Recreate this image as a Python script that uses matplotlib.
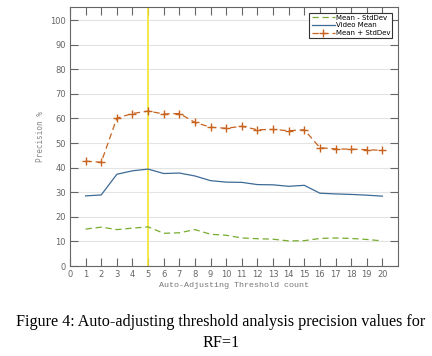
import matplotlib.pyplot as plt

# Data
counts = list(range(1, 21))
mean_minus_std = [15, 15.8, 14.8, 15.4, 15.9, 13.3, 13.5, 14.8, 12.9, 12.5,
                  11.4, 11.1, 10.9, 10.2, 10.3, 11.2, 11.4, 11.2, 10.8, 10.2]
video_mean = [28.5, 28.9, 37.3, 38.7, 39.4, 37.6, 37.8, 36.6, 34.7, 34.1,
              34.0, 33.1, 33.0, 32.4, 32.8, 29.6, 29.3, 29.1, 28.8, 28.4]
mean_plus_std = [42.6, 42.2, 60.1, 62.0, 63.0, 61.8, 62.0, 58.4, 56.4, 56.0,
                 56.8, 55.4, 55.5, 55.0, 55.4, 48.1, 47.6, 47.5, 47.3, 47.0]
chosen_count = 5

fig = plt.figure(figsize=(4.32, 3.56), dpi=100)
ax = fig.add_axes([70 / 432, 1 - 266 / 356, 328 / 432, 259 / 356])

ax.axvline(chosen_count, color='#f5e52a', lw=1.2, zorder=1)
ax.plot(counts, mean_minus_std, '--', dashes=(5, 3), color='#77ac30', lw=0.9,
        label='Mean - StdDev')
ax.plot(counts, video_mean, '-', color='#3d6a96', lw=0.9, label='Video Mean')
ax.plot(counts, mean_plus_std, '--', dashes=(5, 3), color='#c8631e', lw=0.9, marker='+',
        markersize=5.5, markeredgewidth=1.0, label='Mean + StdDev')

ax.set_xlim(0, 21)
ax.set_ylim(0, 105.3)
ax.set_xticks(range(0, 21))
ax.set_yticks(range(0, 101, 10))
ax.tick_params(direction='in', top=True, right=True, labelsize=6,
               labelcolor='#666666', length=6, width=0.8, color='#666666', pad=3)
ax.grid(True, axis='y', color='#e4e4e4', lw=0.8)
ax.set_axisbelow(True)
for s in ax.spines.values():
    s.set_color('#666666')
    s.set_linewidth(0.8)

ax.set_ylabel('Precision %', family='DejaVu Sans Mono', fontsize=5.5, color='#888888', labelpad=4)
ax.set_xlabel('Auto-Adjusting Threshold count', family='Liberation Mono', fontsize=6,
              color='#777777', labelpad=2)

leg = ax.legend(loc='upper right', fontsize=5, fancybox=False, framealpha=1,
                edgecolor='#333333', borderpad=0.3, labelspacing=0.25,
                handlelength=3.4, handletextpad=0.1, borderaxespad=0.8)
leg.get_frame().set_linewidth(0.8)

fig.text(221 / 432, 1 - 322 / 356, 'Figure 4: Auto-adjusting threshold analysis precision values for',
         ha='center', va='center', family='Liberation Serif', fontsize=11.6)
fig.text(221 / 432, 1 - 343 / 356, 'RF=1', ha='center', va='center',
         family='Liberation Serif', fontsize=11.6)

fig.savefig('out.png', dpi=100)
